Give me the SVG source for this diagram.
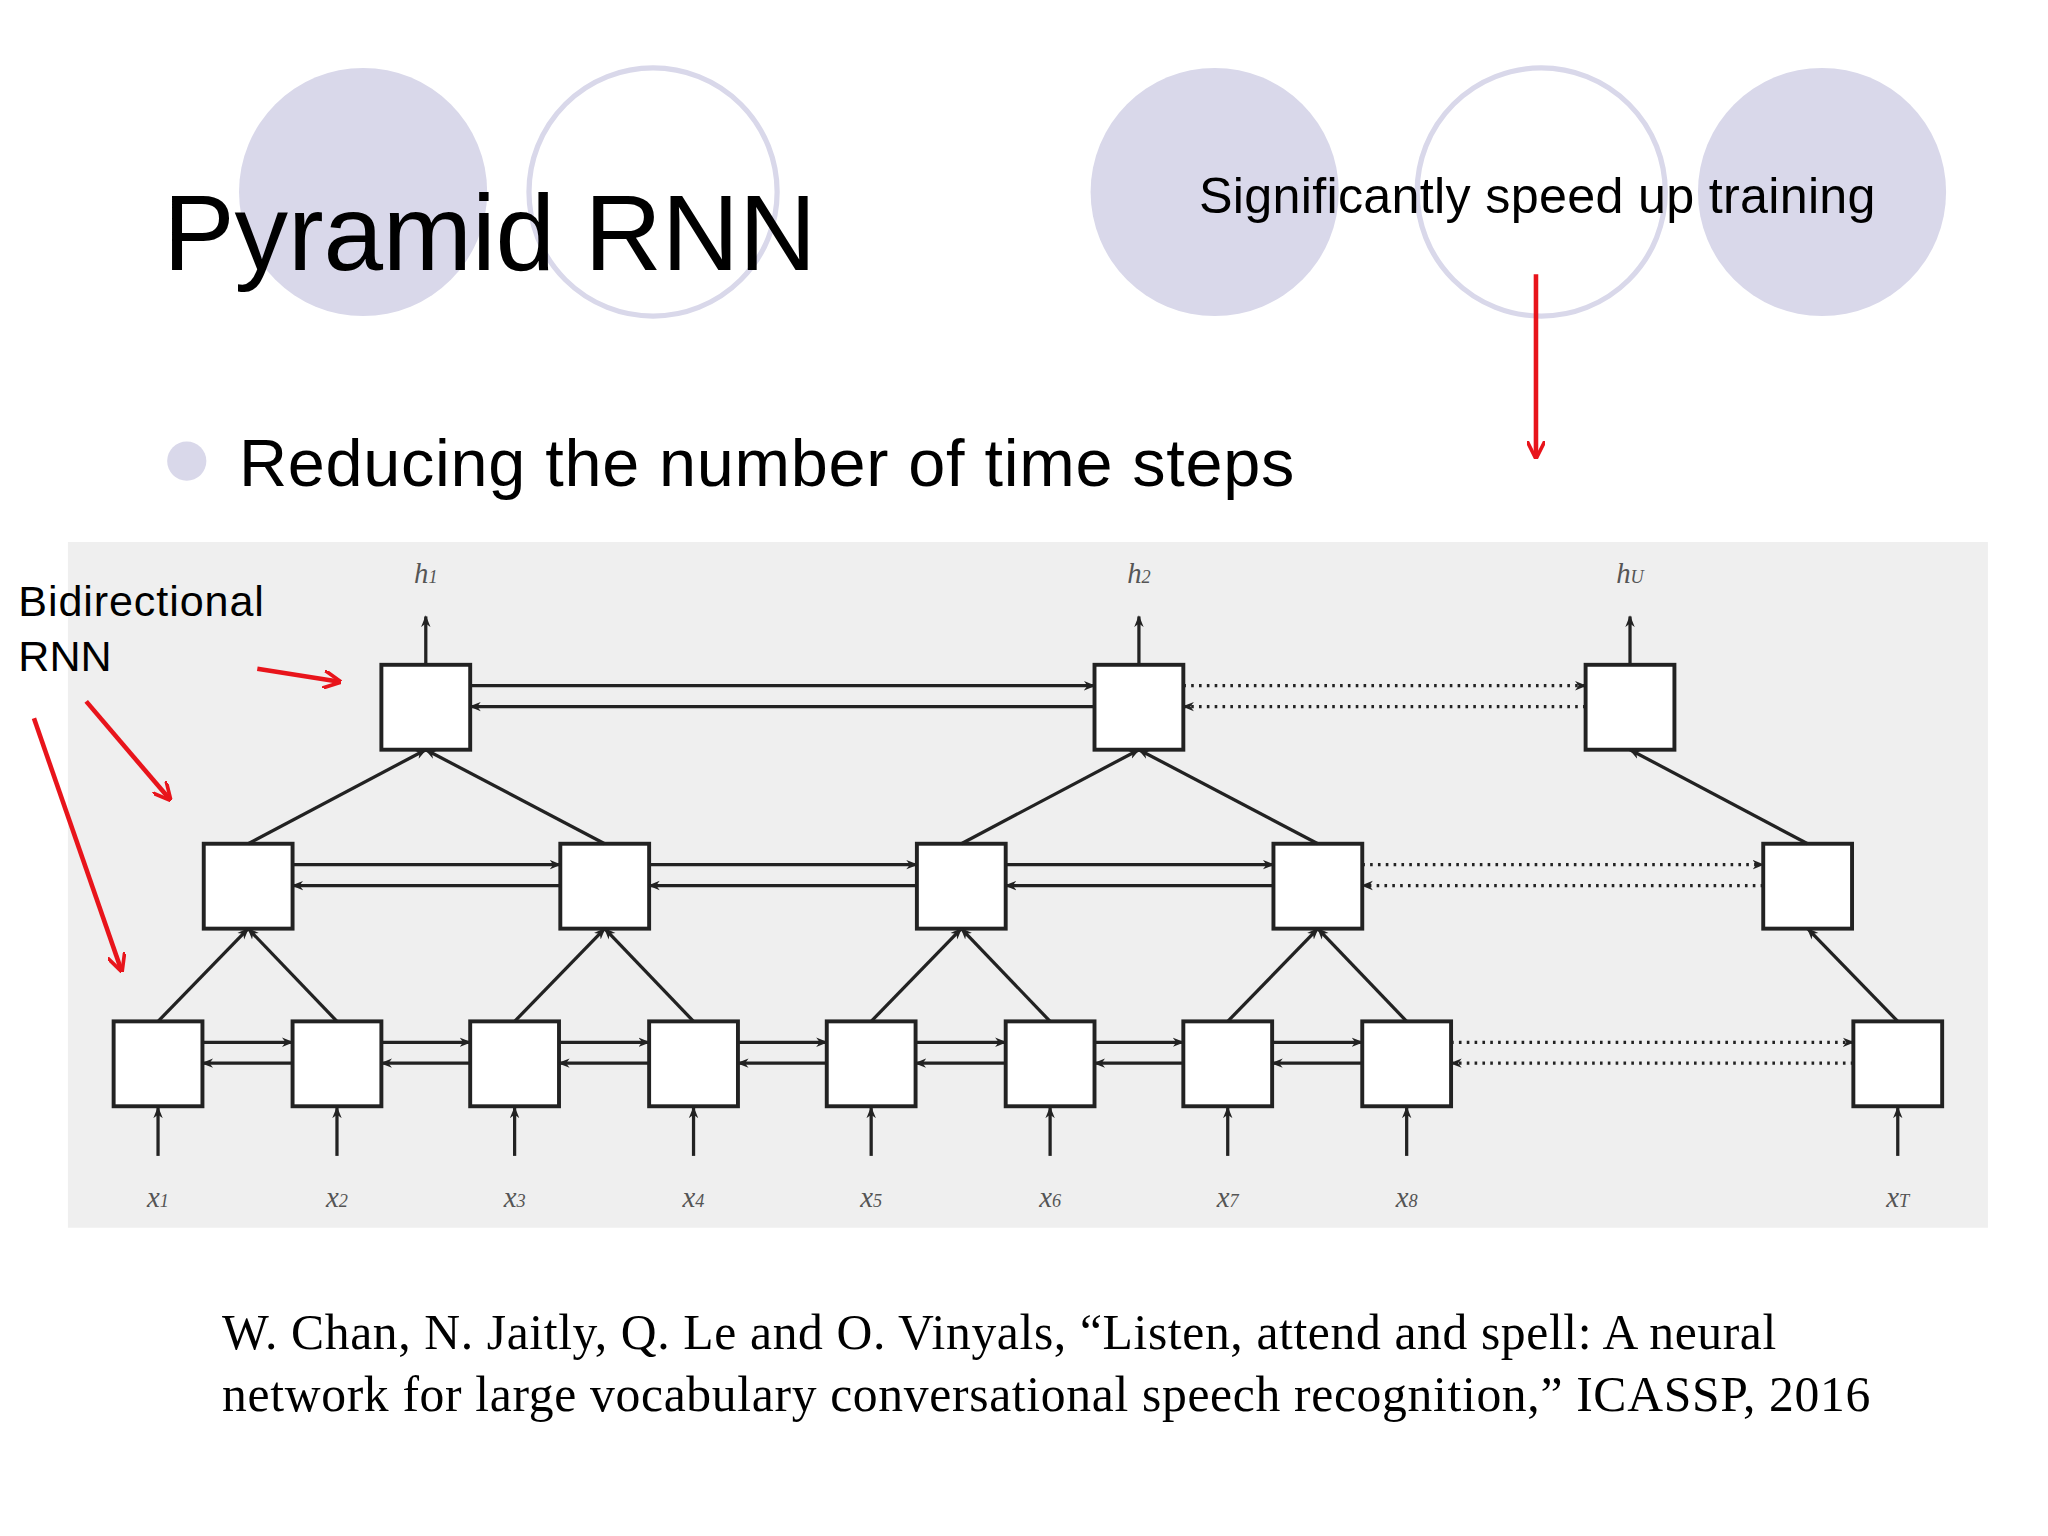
<svg xmlns="http://www.w3.org/2000/svg" width="2048" height="1536" viewBox="0 0 2048 1536">
<defs>
<marker id="ah" viewBox="0 0 10 10" refX="9" refY="5" markerWidth="9" markerHeight="9" orient="auto" markerUnits="userSpaceOnUse"><path d="M0,1 L10,5 L0,9 L3,5 z" fill="#222"/></marker>
<marker id="rh" viewBox="0 0 10 10" refX="9" refY="5" markerWidth="14" markerHeight="14" orient="auto" markerUnits="userSpaceOnUse"><path d="M0,0 L10,5 L0,10" fill="none" stroke="#e8141b" stroke-width="2"/></marker>
</defs>
<style>
.fc{fill:#d9d8ea}.oc{fill:none;stroke:#d9d8ea;stroke-width:4}
.box{fill:#fff;stroke:#222;stroke-width:3}
.ln{stroke:#222;stroke-width:2.5;fill:none;marker-end:url(#ah)}
.dt{stroke:#222;stroke-width:2.5;fill:none;stroke-dasharray:2 4;marker-end:url(#ah)}
.red{stroke:#e8141b;stroke-width:3.5;fill:none;marker-end:url(#rh)}
.sans{font-family:"Liberation Sans",Arial,sans-serif}
.m{font-family:"Liberation Serif",serif;font-style:italic;font-size:22px;fill:#555;text-anchor:middle}
</style>
<rect width="2048" height="1536" fill="#fff"/>
<g transform="scale(1.3061)">
<g id="decor">
<circle class="fc" cx="278" cy="147" r="95"/><circle class="oc" cx="500" cy="147" r="95"/>
<circle class="fc" cx="930" cy="147" r="95"/><circle class="oc" cx="1180" cy="147" r="95"/><circle class="fc" cx="1395" cy="147" r="95"/>
</g>
<text class="sans" x="125" y="207" font-size="82" textLength="500">Pyramid RNN</text>
<text class="sans" x="918" y="163" font-size="38.5" textLength="518">Significantly speed up training</text>
<circle class="fc" cx="143" cy="353" r="15"/>
<text class="sans" x="183" y="372" font-size="51" textLength="808">Reducing the number of time steps</text>
<rect x="52" y="415" width="1470" height="525" fill="#efefef"/>
<g id="nodes">
<rect class="box" x="87" y="782" width="68" height="65"/><rect class="box" x="224" y="782" width="68" height="65"/><rect class="box" x="360" y="782" width="68" height="65"/><rect class="box" x="497" y="782" width="68" height="65"/><rect class="box" x="633" y="782" width="68" height="65"/><rect class="box" x="770" y="782" width="68" height="65"/><rect class="box" x="906" y="782" width="68" height="65"/><rect class="box" x="1043" y="782" width="68" height="65"/><rect class="box" x="1419" y="782" width="68" height="65"/>
<rect class="box" x="156" y="646" width="68" height="65"/><rect class="box" x="429" y="646" width="68" height="65"/><rect class="box" x="702" y="646" width="68" height="65"/><rect class="box" x="975" y="646" width="68" height="65"/><rect class="box" x="1350" y="646" width="68" height="65"/>
<rect class="box" x="292" y="509" width="68" height="65"/><rect class="box" x="838" y="509" width="68" height="65"/><rect class="box" x="1214" y="509" width="68" height="65"/>
</g>
<g id="connectors">
<path class="ln" d="M155,798H224"/><path class="ln" d="M292,798H360"/><path class="ln" d="M428,798H497"/><path class="ln" d="M565,798H633"/><path class="ln" d="M701,798H770"/><path class="ln" d="M838,798H906"/><path class="ln" d="M974,798H1043"/>
<path class="ln" d="M224,814H155"/><path class="ln" d="M360,814H292"/><path class="ln" d="M497,814H428"/><path class="ln" d="M633,814H565"/><path class="ln" d="M770,814H701"/><path class="ln" d="M906,814H838"/><path class="ln" d="M1043,814H974"/>
<path class="dt" d="M1111,798H1419"/><path class="dt" d="M1419,814H1111"/>
<path class="ln" d="M224,662H429"/><path class="ln" d="M497,662H702"/><path class="ln" d="M770,662H975"/>
<path class="ln" d="M429,678H224"/><path class="ln" d="M702,678H497"/><path class="ln" d="M975,678H770"/>
<path class="dt" d="M1043,662H1350"/><path class="dt" d="M1350,678H1043"/>
<path class="ln" d="M360,525H838"/><path class="ln" d="M838,541H360"/>
<path class="dt" d="M906,525H1214"/><path class="dt" d="M1214,541H906"/>
<path class="ln" d="M121,782L190,711"/><path class="ln" d="M258,782L190,711"/><path class="ln" d="M394,782L463,711"/><path class="ln" d="M531,782L463,711"/><path class="ln" d="M667,782L736,711"/><path class="ln" d="M804,782L736,711"/><path class="ln" d="M940,782L1009,711"/><path class="ln" d="M1077,782L1009,711"/><path class="ln" d="M1453,782L1384,711"/>
<path class="ln" d="M190,646L326,574"/><path class="ln" d="M463,646L326,574"/><path class="ln" d="M736,646L872,574"/><path class="ln" d="M1009,646L872,574"/><path class="ln" d="M1384,646L1248,574"/>
<path class="ln" d="M121,885V848"/><path class="ln" d="M258,885V848"/><path class="ln" d="M394,885V848"/><path class="ln" d="M531,885V848"/><path class="ln" d="M667,885V848"/><path class="ln" d="M804,885V848"/><path class="ln" d="M940,885V848"/><path class="ln" d="M1077,885V848"/><path class="ln" d="M1453,885V848"/>
<path class="ln" d="M326,509V472"/><path class="ln" d="M872,509V472"/><path class="ln" d="M1248,509V472"/>
<path class="red" d="M1176,210V350"/>
<path class="red" d="M197,512L260,522"/>
<path class="red" d="M66,537L130,612"/>
<path class="red" d="M26,550L93,743"/>
</g>
<g id="labels">
<text class="m" x="121" y="924">x<tspan font-size="14">1</tspan></text><text class="m" x="258" y="924">x<tspan font-size="14">2</tspan></text><text class="m" x="394" y="924">x<tspan font-size="14">3</tspan></text><text class="m" x="531" y="924">x<tspan font-size="14">4</tspan></text><text class="m" x="667" y="924">x<tspan font-size="14">5</tspan></text><text class="m" x="804" y="924">x<tspan font-size="14">6</tspan></text><text class="m" x="940" y="924">x<tspan font-size="14">7</tspan></text><text class="m" x="1077" y="924">x<tspan font-size="14">8</tspan></text><text class="m" x="1453" y="924">x<tspan font-size="14">T</tspan></text>
<text class="m" x="326" y="446">h<tspan font-size="14">1</tspan></text><text class="m" x="872" y="446">h<tspan font-size="14">2</tspan></text><text class="m" x="1248" y="446">h<tspan font-size="14">U</tspan></text>
<text class="sans" x="14" y="472" font-size="33" textLength="188">Bidirectional</text>
<text class="sans" x="14" y="514" font-size="33">RNN</text>
<text x="170" y="1033" font-family="Liberation Serif,serif" font-size="38" textLength="1190">W. Chan, N. Jaitly, Q. Le and O. Vinyals, “Listen, attend and spell: A neural</text>
<text x="170" y="1080" font-family="Liberation Serif,serif" font-size="38" textLength="1262">network for large vocabulary conversational speech recognition,” ICASSP, 2016</text>
</g>
</g>
</svg>
